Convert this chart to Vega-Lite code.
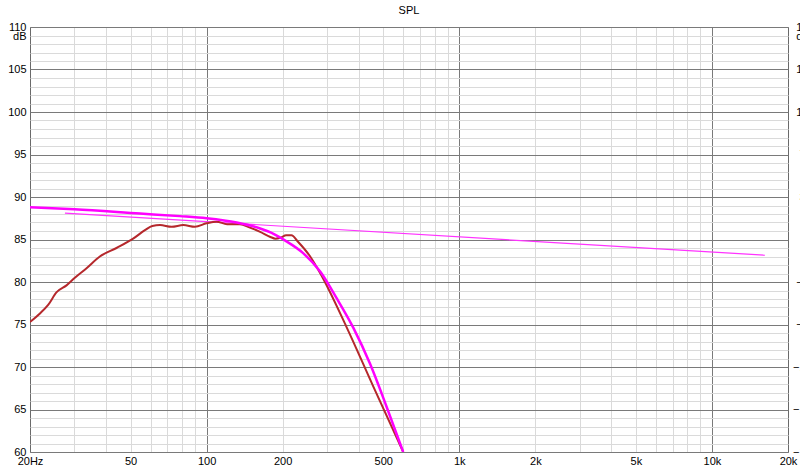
{
  "$schema": "https://vega.github.io/schema/vega-lite/v6.json",
  "width": 758,
  "height": 425,
  "autosize": "none",
  "padding": {"left": 30, "top": 27, "right": 12, "bottom": 23},
  "background": "white",
  "title": {"text": "SPL", "font": "Liberation Sans", "fontSize": 11, "fontWeight": "normal", "color": "#000000", "offset": 5, "anchor": "middle"},
  "config": {
    "view": {"stroke": "#6a6a6a", "strokeWidth": 1},
    "axis": {"labelFont": "Liberation Sans", "labelFontSize": 11, "labelColor": "#000000", "titleFont": "Liberation Sans", "titleFontSize": 11, "titleFontWeight": "normal", "titleColor": "#000000"}
  },
  "datasets": {
    "spl": [
      {"series": "measured", "f": 20, "db": 75.3},
      {"series": "measured", "f": 21.9, "db": 76.3},
      {"series": "measured", "f": 23.6, "db": 77.3},
      {"series": "measured", "f": 25.5, "db": 78.8},
      {"series": "measured", "f": 27.9, "db": 79.6},
      {"series": "measured", "f": 30.1, "db": 80.5},
      {"series": "measured", "f": 33.4, "db": 81.6},
      {"series": "measured", "f": 37.8, "db": 83.0},
      {"series": "measured", "f": 44.0, "db": 84.0},
      {"series": "measured", "f": 51.2, "db": 85.1},
      {"series": "measured", "f": 57.0, "db": 86.1},
      {"series": "measured", "f": 61.0, "db": 86.6},
      {"series": "measured", "f": 65.4, "db": 86.7},
      {"series": "measured", "f": 72.7, "db": 86.5},
      {"series": "measured", "f": 80.9, "db": 86.7},
      {"series": "measured", "f": 89.9, "db": 86.5},
      {"series": "measured", "f": 99.9, "db": 86.9},
      {"series": "measured", "f": 109.5, "db": 87.1},
      {"series": "measured", "f": 120.5, "db": 86.8},
      {"series": "measured", "f": 135.5, "db": 86.8},
      {"series": "measured", "f": 148.4, "db": 86.4},
      {"series": "measured", "f": 162.9, "db": 85.9},
      {"series": "measured", "f": 178.8, "db": 85.3},
      {"series": "measured", "f": 187.3, "db": 85.1},
      {"series": "measured", "f": 195.9, "db": 85.2},
      {"series": "measured", "f": 206.6, "db": 85.5},
      {"series": "measured", "f": 216.7, "db": 85.5},
      {"series": "measured", "f": 229.0, "db": 84.8},
      {"series": "measured", "f": 257.0, "db": 83.0},
      {"series": "measured", "f": 282.0, "db": 81.0},
      {"series": "measured", "f": 358.0, "db": 74.7},
      {"series": "measured", "f": 457.0, "db": 67.7},
      {"series": "measured", "f": 600.0, "db": 60.0},
      {"series": "model", "f": 20, "db": 88.8},
      {"series": "model", "f": 30, "db": 88.55},
      {"series": "model", "f": 54.5, "db": 88.05},
      {"series": "model", "f": 78.4, "db": 87.75},
      {"series": "model", "f": 100, "db": 87.5},
      {"series": "model", "f": 131.6, "db": 87.0},
      {"series": "model", "f": 163, "db": 86.3},
      {"series": "model", "f": 180, "db": 85.8},
      {"series": "model", "f": 204, "db": 84.9},
      {"series": "model", "f": 241, "db": 83.4},
      {"series": "model", "f": 282, "db": 81.2},
      {"series": "model", "f": 327, "db": 78.1},
      {"series": "model", "f": 381, "db": 74.6},
      {"series": "model", "f": 443, "db": 70.4},
      {"series": "model", "f": 516, "db": 65.3},
      {"series": "model", "f": 600, "db": 60.0},
      {"series": "target", "f": 27.5, "db": 88.1},
      {"series": "target", "f": 16200, "db": 83.15}
    ]
  },
  "data": {"name": "spl"},
  "layer": [
    {
      "transform": [{"filter": "datum.series === 'target'"}],
      "mark": {"type": "line", "color": "#ff33ff", "strokeWidth": 1.2, "clip": true},
      "encoding": {
        "x": {"field": "f", "type": "quantitative", "scale": {"type": "log", "domain": [20, 20000], "nice": false},
          "axis": {"orient": "bottom", "grid": true, "gridColor": "#dadada", "gridWidth": 1, "values": [30, 40, 50, 60, 70, 80, 90, 200, 300, 400, 500, 600, 700, 800, 900, 2000, 3000, 4000, 5000, 6000, 7000, 8000, 9000], "labels": false, "ticks": false, "domain": false, "title": null}},
        "y": {"field": "db", "type": "quantitative", "scale": {"domain": [60, 110], "nice": false, "zero": false},
          "axis": {"orient": "left", "grid": true, "gridColor": "#dadada", "gridWidth": 1, "values": [61, 62, 63, 64, 66, 67, 68, 69, 71, 72, 73, 74, 76, 77, 78, 79, 81, 82, 83, 84, 86, 87, 88, 89, 91, 92, 93, 94, 96, 97, 98, 99, 101, 102, 103, 104, 106, 107, 108, 109], "labels": false, "ticks": false, "domain": false, "title": null}}
      }
    },
    {
      "transform": [{"filter": "datum.series === 'measured'"}],
      "mark": {"type": "line", "color": "#b5282c", "strokeWidth": 2, "interpolate": "monotone", "clip": true},
      "encoding": {
        "x": {"field": "f", "type": "quantitative", "scale": {"type": "log", "domain": [20, 20000], "nice": false},
          "axis": {"orient": "bottom", "grid": true, "gridColor": "#7a7a7a", "gridWidth": 1, "values": [100, 1000, 10000], "labels": false, "ticks": false, "domain": false, "title": null}},
        "y": {"field": "db", "type": "quantitative", "scale": {"domain": [60, 110], "nice": false, "zero": false},
          "axis": {"orient": "left", "grid": true, "gridColor": "#7a7a7a", "gridWidth": 1, "values": [60, 65, 70, 75, 80, 85, 90, 95, 100, 105, 110], "labels": true, "labelPadding": 4, "labelAlign": "right", "labelBaseline": "middle", "labelFlush": false, "labelOverlap": false, "labelBound": false, "ticks": false, "domain": false,
            "title": "dB", "titleAngle": 0, "titleAlign": "right", "titleBaseline": "middle", "titleX": -4, "titleY": 9}}
      }
    },
    {
      "transform": [{"filter": "datum.series === 'model'"}],
      "mark": {"type": "line", "color": "#ff00ff", "strokeWidth": 2.5, "interpolate": "monotone", "clip": true},
      "encoding": {
        "x": {"field": "f", "type": "quantitative", "scale": {"type": "log", "domain": [20, 20000], "nice": false},
          "axis": {"orient": "bottom", "grid": false, "values": [20, 50, 100, 200, 500, 1000, 2000, 5000, 10000, 20000], "labelExpr": "datum.value == 20 ? '20Hz' : (datum.value >= 1000 ? (datum.value / 1000) + 'k' : datum.value + '')", "labelPadding": 3, "labelFlush": false, "labelOverlap": false, "labelBound": false, "ticks": false, "domain": false, "title": null}},
        "y": {"field": "db", "type": "quantitative", "scale": {"domain": [60, 110], "nice": false, "zero": false},
          "axis": {"orient": "right", "grid": false, "values": [60, 65, 70, 75, 80, 85, 90, 95, 100, 105, 110], "labelExpr": "format((datum.value - 85) * 7.2, 'd')", "labelAlign": "center", "labelBaseline": "middle", "labelPadding": 17, "labelFlush": false, "labelOverlap": false, "labelBound": false, "ticks": false, "domain": false,
            "title": "deg", "titleAngle": 0, "titleAlign": "center", "titleBaseline": "middle", "titleX": 17, "titleY": 9}}
      }
    }
  ],
  "resolve": {"axis": {"x": "independent", "y": "independent"}}
}
